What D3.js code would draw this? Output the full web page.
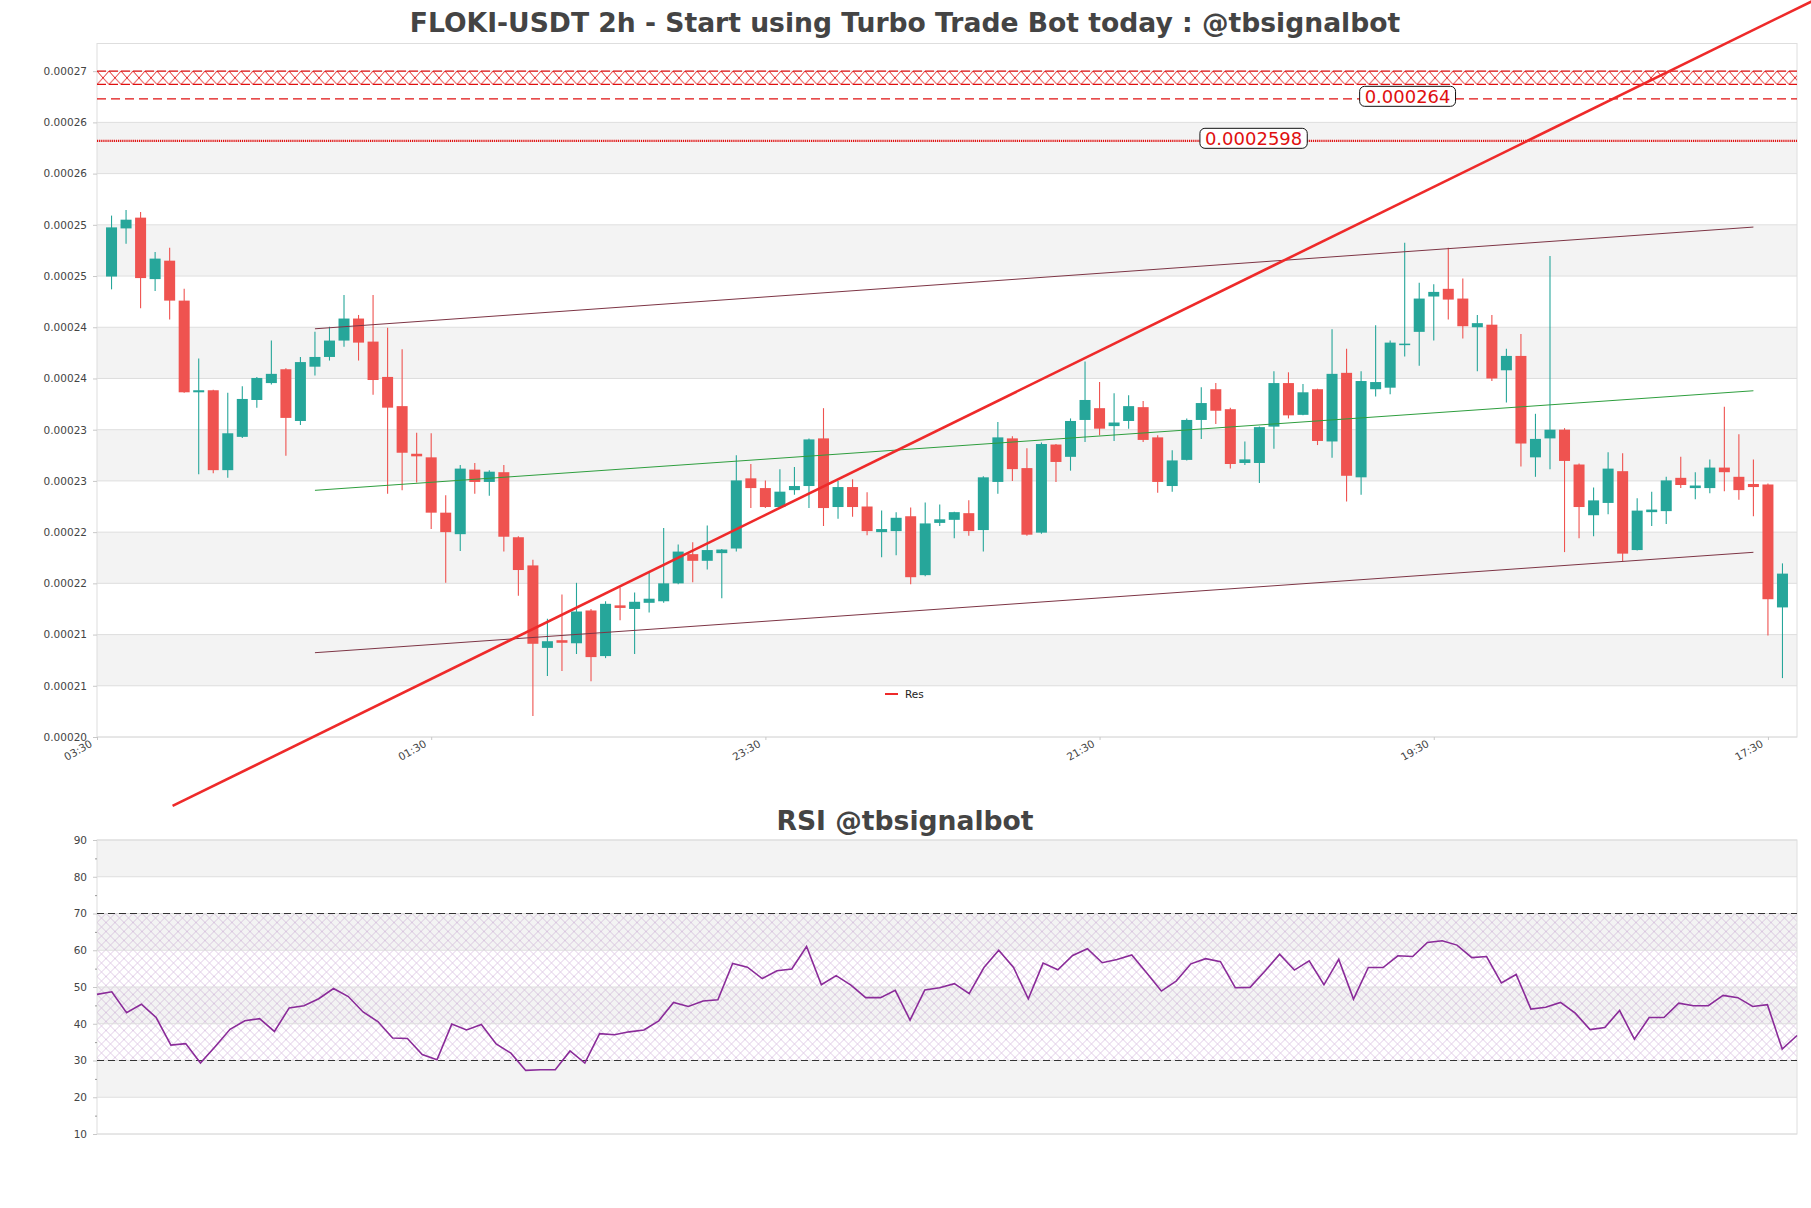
<!DOCTYPE html>
<html><head><meta charset="utf-8">
<script src="https://cdn.jsdelivr.net/npm/d3@7/dist/d3.min.js"></script>
<style>body{margin:0;background:#fff}svg{display:block;font-family:"DejaVu Sans",sans-serif}</style>
</head><body><svg id="c" width="1811" height="1208"></svg>
<script>
// ---------------- DATA ----------------
const openP = [0.00024655,0.00025125,0.0002523,0.0002463,0.0002481,0.0002442,0.00023525,0.00023545,0.00022765,0.0002309,
0.0002345,0.00023615,0.0002375,0.00023245,0.00023775,0.0002387,0.0002403,0.00024245,0.0002402,0.00023675,
0.0002339,0.00022925,0.0002289,0.0002235,0.0002214,0.0002277,0.0002265,0.00022745,0.0002211,0.00021835,
0.0002103,0.00021105,0.00021075,0.00021395,0.0002095,0.00021445,0.0002141,0.0002147,0.00021485,0.0002166,
0.00021945,0.0002188,0.00021955,0.00022,0.00022685,0.0002259,0.00022405,0.0002257,0.0002261,0.00023075,
0.00022405,0.000226,0.0002241,0.0002216,0.0002217,0.00022315,0.0002174,0.0002225,0.0002228,0.00022345,
0.0002218,0.0002265,0.00023075,0.00022785,0.00022155,0.00023015,0.00022895,0.00023255,0.0002337,0.00023195,
0.00023245,0.0002338,0.00023085,0.0002261,0.00022865,0.00023255,0.00023555,0.0002336,0.00022835,0.00022835,
0.0002319,0.00023615,0.00023305,0.00023555,0.00023045,0.00023715,0.00022695,0.00023555,0.0002357,0.0002399,
0.00024115,0.0002446,0.00024535,0.0002444,0.0002416,0.00024185,0.0002374,0.0002388,0.0002289,0.00023075,
0.0002316,0.0002282,0.00022325,0.00022445,0.00022755,0.00021985,0.00022355,0.00022365,0.0002269,0.0002259,
0.0002259,0.0002279,0.000227,0.0002263,0.00022625,0.00021425];
const highP = [0.0002525,0.00025305,0.00025285,0.00024895,0.00024935,0.00024535,0.00023855,0.0002355,0.0002352,0.00023585,
0.00023675,0.0002403,0.0002376,0.0002387,0.00024115,0.00024165,0.00024475,0.0002428,0.00024475,0.00024155,
0.00023945,0.0002313,0.00023125,0.0002252,0.00022815,0.00022835,0.00022765,0.00022815,0.0002212,0.0002189,
0.00021315,0.0002155,0.00021665,0.0002141,0.00021485,0.0002162,0.0002157,0.0002178,0.000222,0.0002204,
0.0002206,0.00022225,0.00021995,0.0002291,0.00022825,0.00022665,0.00022775,0.00022795,0.00023075,0.0002337,
0.0002266,0.00022675,0.0002255,0.0002237,0.00022355,0.000224,0.0002245,0.0002243,0.0002236,0.0002247,
0.00022705,0.00023235,0.00023095,0.0002298,0.00023035,0.0002302,0.0002327,0.00023825,0.00023625,0.00023515,
0.00023495,0.0002344,0.00023105,0.0002296,0.0002327,0.00023575,0.00023615,0.00023375,0.00023045,0.0002319,
0.0002373,0.0002372,0.00023605,0.0002356,0.0002414,0.0002395,0.0002373,0.0002418,0.0002403,0.00024985,
0.00024595,0.0002458,0.00024935,0.00024635,0.0002428,0.0002428,0.0002395,0.00024095,0.00023315,0.00024855,
0.00023175,0.0002283,0.00022595,0.0002294,0.0002293,0.0002249,0.00022555,0.000227,0.00022895,0.00022745,
0.0002287,0.00023385,0.00023115,0.0002287,0.00022635,0.00021855];
const lowP = [0.0002453,0.00024975,0.00024345,0.00024515,0.00024235,0.0002352,0.00022725,0.00022735,0.0002269,0.0002308,
0.00023375,0.000236,0.00022905,0.00023205,0.0002369,0.00023835,0.0002397,0.00023835,0.000235,0.00022535,
0.0002257,0.00022645,0.0002219,0.00021665,0.00021975,0.00022535,0.00022515,0.0002197,0.0002154,0.00020365,
0.00020755,0.00020805,0.0002097,0.00020705,0.0002093,0.000213,0.0002097,0.00021375,0.0002147,0.0002165,
0.0002167,0.00021795,0.00021515,0.0002197,0.00022395,0.00022395,0.00022395,0.00022525,0.00022395,0.0002222,
0.0002229,0.0002231,0.0002213,0.00021915,0.00021935,0.0002165,0.0002173,0.0002222,0.000221,0.00022125,
0.0002197,0.00022535,0.0002266,0.00022125,0.00022145,0.0002265,0.0002276,0.0002304,0.00023105,0.0002305,
0.0002317,0.0002304,0.00022545,0.00022555,0.0002286,0.0002307,0.00023215,0.0002278,0.00022815,0.0002264,
0.00022975,0.0002327,0.000233,0.0002301,0.00022885,0.0002246,0.00022525,0.00023485,0.00023505,0.00023875,
0.00023785,0.0002403,0.00024235,0.0002405,0.0002373,0.00023635,0.00023425,0.000228,0.000227,0.00022775,
0.00021965,0.000221,0.0002212,0.00022335,0.00021875,0.0002198,0.0002222,0.0002224,0.0002259,0.0002248,
0.0002254,0.0002256,0.00022475,0.00022315,0.0002115,0.00020735];
const closeP = [0.00025135,0.0002521,0.0002464,0.0002483,0.0002442,0.00023525,0.00023545,0.00022765,0.00023125,0.0002346,
0.00023665,0.00023705,0.00023275,0.0002382,0.0002387,0.0002403,0.00024245,0.0002401,0.00023645,0.00023375,
0.00022935,0.000229,0.0002235,0.0002216,0.0002278,0.0002265,0.0002275,0.00022115,0.0002179,0.0002107,
0.00021095,0.0002108,0.00021385,0.0002094,0.0002146,0.0002142,0.0002148,0.0002151,0.0002166,0.0002197,
0.0002188,0.00021985,0.0002199,0.00022665,0.0002259,0.00022405,0.00022555,0.0002261,0.00023065,0.00022395,
0.000226,0.00022405,0.0002217,0.0002219,0.000223,0.0002172,0.00022245,0.00022285,0.00022355,0.0002217,
0.00022695,0.00023085,0.00022775,0.00022135,0.0002302,0.00022845,0.00023245,0.0002345,0.0002317,0.0002323,
0.0002339,0.0002306,0.0002265,0.0002286,0.00023255,0.0002342,0.00023345,0.00022825,0.0002287,0.00023185,
0.00023615,0.000233,0.00023525,0.0002305,0.00023705,0.0002271,0.00023635,0.00023625,0.0002401,0.00024,
0.0002444,0.00024505,0.0002443,0.0002417,0.000242,0.0002366,0.0002388,0.00023025,0.0002307,0.0002316,
0.00022855,0.00022405,0.0002247,0.0002278,0.0002195,0.0002237,0.0002238,0.00022665,0.0002262,0.00022615,
0.0002279,0.00022745,0.0002257,0.000226,0.00021505,0.00021755];

const xTickIdx = [-1, 22, 45, 68, 91, 114];
const xTickLabels = ["03:30", "01:30", "23:30", "21:30", "19:30", "17:30"];
const yTickValues = [0.0002016,0.0002066,0.0002116,0.0002166,0.0002216,0.0002266,0.0002316,0.0002366,0.0002416,0.0002466,0.0002516,0.0002566,0.0002616,0.0002666];
const yTickLabels = ["0.00020","0.00021","0.00021","0.00022","0.00022","0.00023","0.00023","0.00024","0.00024","0.00025","0.00025","0.00026","0.00026","0.00027"];

const channelUpper = [[14, 0.00024145], [113, 0.00025138]];
const channelMid   = [[14, 0.00022568], [113, 0.0002354]];
const channelLower = [[14, 0.00020983], [113, 0.00021963]];
const resLine      = [[4.2, 0.00019487], [119, 0.0002748]];
const resLegend = "Res";
const zoneRange = [0.0002653, 0.0002666];
const levelDashed = 0.0002639, levelDashedLabel = "0.000264";
const levelDotted = 0.0002598, levelDottedLabel = "0.0002598";

const rsiValues = [48.0,48.7,43.0,45.3,41.7,34.2,34.6,29.3,33.8,38.5,
40.8,41.4,37.9,44.3,44.9,46.8,49.6,47.4,43.2,40.6,
36.1,36.0,31.6,30.2,39.9,38.3,39.8,34.5,32.0,27.3,
27.5,27.5,32.6,29.3,37.3,37.0,37.8,38.3,40.8,45.8,
44.7,46.2,46.5,56.4,55.4,52.3,54.4,54.9,61.0,50.6,
53.1,50.5,47.1,47.1,49.1,41.0,49.2,49.8,50.9,48.2,
55.3,60.0,55.3,46.8,56.5,54.7,58.6,60.4,56.6,57.5,
58.7,53.9,48.9,51.6,56.3,57.7,56.9,49.8,49.9,54.3,
58.9,54.6,57.1,50.6,57.5,46.7,55.3,55.3,58.5,58.3,
62.1,62.6,61.4,58.0,58.3,51.1,53.4,44.0,44.5,45.8,
42.9,38.4,39.0,43.6,35.8,41.7,41.7,45.6,44.9,44.9,
47.7,47.1,44.7,45.2,33.1,36.8];
const rsiTicks = [10,20,30,40,50,60,70,80,90];
const rsiMinor = [15,25,35,45,55,65,75,85];
const rsiLevels = [30, 70];

const mainTitle = "FLOKI-USDT 2h - Start using Turbo Trade Bot today : @tbsignalbot";
const rsiTitle = "RSI @tbsignalbot";

// ---------------- DRAW ----------------
const svg = d3.select("#c");
const defs = svg.append("defs");
const UP = "#26a69a", DOWN = "#ef5350", BAND = "#f3f3f3", GRID = "#dedede", TXT = "#444";

const M = {l: 97, r: 1797, t: 43.5, b: 737};
const x = d3.scaleLinear().domain([-1, 116]).range([M.l, M.r]);
const y = d3.scaleLinear().domain([0.0002016, 0.0002693]).range([M.b, M.t]);

// title
svg.append("text").attr("x", 905).attr("y", 32).attr("text-anchor", "middle")
  .attr("font-size", 26.6).attr("font-weight", "bold").attr("fill", TXT).text(mainTitle);

const g = svg.append("g");
// bands
for (let k = 1; k < yTickValues.length - 1; k += 2) {
  g.append("rect").attr("x", M.l).attr("width", M.r - M.l)
    .attr("y", y(yTickValues[k + 1])).attr("height", y(yTickValues[k]) - y(yTickValues[k + 1]))
    .attr("fill", BAND);
}
g.selectAll("line.grid").data(yTickValues).join("line").attr("class", "grid")
  .attr("x1", M.l).attr("x2", M.r).attr("y1", d => y(d)).attr("y2", d => y(d))
  .attr("stroke", GRID).attr("stroke-width", 1);
g.append("rect").attr("x", M.l).attr("y", M.t).attr("width", M.r - M.l).attr("height", M.b - M.t)
  .attr("fill", "none").attr("stroke", GRID);

// y axis
const ya = g.append("g").attr("transform", `translate(${M.l},0)`)
  .call(d3.axisLeft(y).tickValues(yTickValues).tickFormat((d, i) => yTickLabels[i]).tickSize(4).tickPadding(6));
ya.select(".domain").remove();
ya.selectAll("line").attr("stroke", "#c8c8c8");
ya.selectAll("text").attr("font-size", 10.5).attr("fill", TXT).attr("font-family", "DejaVu Sans");

// x axis
const xa = g.append("g").attr("transform", `translate(0,${M.b})`)
  .call(d3.axisBottom(x).tickValues(xTickIdx).tickFormat((d, i) => xTickLabels[i]).tickSize(3));
xa.select(".domain").remove();
xa.selectAll("line").attr("stroke", "#c8c8c8");
xa.selectAll("text").attr("font-size", 10.5).attr("fill", TXT).attr("font-family", "DejaVu Sans")
  .attr("text-anchor", "end").attr("x", -1).attr("y", 3).attr("dy", "0.75em")
  .attr("transform", "translate(-9,-1) rotate(-30)");

// hatched zone
const zTop = y(zoneRange[1]), zBot = y(zoneRange[0]), zH = zBot - zTop;
const zp = defs.append("pattern").attr("id", "zoneHatch").attr("patternUnits", "userSpaceOnUse")
  .attr("x", M.l).attr("y", zTop).attr("width", 12).attr("height", zH);
zp.append("path").attr("d", `M0,0L12,${zH}M12,0L0,${zH}`).attr("stroke", "#e01010").attr("stroke-width", 0.9).attr("fill", "none");
g.append("rect").attr("x", M.l).attr("width", M.r - M.l).attr("y", zTop).attr("height", zH).attr("fill", "url(#zoneHatch)");
[zTop, zBot].forEach(yy => g.append("line").attr("x1", M.l).attr("x2", M.r).attr("y1", yy).attr("y2", yy)
  .attr("stroke", "#e01010").attr("stroke-width", 1.2).attr("stroke-dasharray", "9,3"));

// levels
g.append("line").attr("x1", M.l).attr("x2", M.r).attr("y1", y(levelDashed)).attr("y2", y(levelDashed))
  .attr("stroke", "#e01010").attr("stroke-width", 1.2).attr("stroke-dasharray", "9,5");
g.append("line").attr("x1", M.l).attr("x2", M.r).attr("y1", y(levelDotted)).attr("y2", y(levelDotted))
  .attr("stroke", "#e01010").attr("stroke-width", 2.2).attr("stroke-dasharray", "1.2,0.9");

// candles
const cw = 11;
const cg = g.append("g");
openP.forEach((o, i) => {
  const c = closeP[i], col = c >= o ? UP : DOWN;
  cg.append("line").attr("x1", x(i)).attr("x2", x(i)).attr("y1", y(highP[i])).attr("y2", y(lowP[i]))
    .attr("stroke", col).attr("stroke-width", 1.1);
  const t = y(Math.max(o, c)), b = y(Math.min(o, c));
  cg.append("rect").attr("x", x(i) - cw / 2).attr("width", cw).attr("y", t).attr("height", Math.max(b - t, 1.5)).attr("fill", col);
});

// channel lines
const line = d3.line().x(d => x(d[0])).y(d => y(d[1]));
g.append("path").attr("d", line(channelUpper)).attr("stroke", "#7d3545").attr("stroke-width", 1).attr("fill", "none");
g.append("path").attr("d", line(channelMid)).attr("stroke", "#2e9e3e").attr("stroke-width", 1).attr("fill", "none");
g.append("path").attr("d", line(channelLower)).attr("stroke", "#7d3545").attr("stroke-width", 1).attr("fill", "none");

// Res line (not clipped)
svg.append("path").attr("d", line(resLine)).attr("stroke", "#ee2a2a").attr("stroke-width", 2.6).attr("fill", "none");

// label boxes
function labelBox(val, txt, idx) {
  const gg = svg.append("g");
  const cy = y(val) - 2.5;
  const t = gg.append("text").attr("x", x(idx)).attr("y", cy).attr("text-anchor", "middle")
    .attr("dominant-baseline", "central").attr("font-size", 18).attr("fill", "#e01010").text(txt);
  const w = t.node().getComputedTextLength();
  gg.insert("rect", "text").attr("x", x(idx) - w / 2 - 5).attr("y", cy - 10).attr("width", w + 10).attr("height", 20)
    .attr("rx", 5).attr("fill", "#fff").attr("stroke", "#111").attr("stroke-width", 1);
}
labelBox(levelDashed, levelDashedLabel, 89.2);
labelBox(levelDotted, levelDottedLabel, 78.6);

// legend
svg.append("line").attr("x1", 885).attr("x2", 898).attr("y1", 694).attr("y2", 694).attr("stroke", "#ee2a2a").attr("stroke-width", 2);
svg.append("text").attr("x", 905).attr("y", 694).attr("dominant-baseline", "central").attr("font-size", 10.5).attr("fill", "#222").text(resLegend);

// ---------------- RSI ----------------
const R = {l: 97, r: 1797, t: 840, b: 1134};
const xr = d3.scaleLinear().domain([0, rsiValues.length - 1]).range([R.l, R.r]);
const yr = d3.scaleLinear().domain([10, 90]).range([R.b, R.t]);
svg.append("text").attr("x", 905).attr("y", 830).attr("text-anchor", "middle")
  .attr("font-size", 26.6).attr("font-weight", "bold").attr("fill", TXT).text(rsiTitle);
const rg = svg.append("g");
for (let k = 1; k < rsiTicks.length - 1; k += 2) {
  rg.append("rect").attr("x", R.l).attr("width", R.r - R.l)
    .attr("y", yr(rsiTicks[k + 1])).attr("height", yr(rsiTicks[k]) - yr(rsiTicks[k + 1])).attr("fill", BAND);
}
const hp = defs.append("pattern").attr("id", "rsiHatch").attr("patternUnits", "userSpaceOnUse")
  .attr("x", R.l).attr("y", yr(70)).attr("width", 9).attr("height", 9);
hp.append("path").attr("d", "M0,0L9,9M9,0L0,9").attr("stroke", "#bf9ccc").attr("stroke-width", 0.7).attr("fill", "none").attr("opacity", 0.7);
rg.append("rect").attr("x", R.l).attr("width", R.r - R.l).attr("y", yr(70)).attr("height", yr(30) - yr(70))
  .attr("fill", "url(#rsiHatch)");
rg.selectAll("line.grid").data(rsiTicks).join("line").attr("class", "grid")
  .attr("x1", R.l).attr("x2", R.r).attr("y1", d => yr(d)).attr("y2", d => yr(d)).attr("stroke", GRID);
rg.append("rect").attr("x", R.l).attr("y", R.t).attr("width", R.r - R.l).attr("height", R.b - R.t)
  .attr("fill", "none").attr("stroke", GRID);
rsiLevels.forEach(v => rg.append("line").attr("x1", R.l).attr("x2", R.r).attr("y1", yr(v)).attr("y2", yr(v))
  .attr("stroke", "#333").attr("stroke-width", 1.2).attr("stroke-dasharray", "7,4"));
const ra = rg.append("g").attr("transform", `translate(${R.l},0)`)
  .call(d3.axisLeft(yr).tickValues(rsiTicks).tickFormat(d3.format("d")).tickSize(4).tickPadding(6));
ra.select(".domain").remove();
ra.selectAll("line").attr("stroke", "#c8c8c8");
ra.selectAll("text").attr("font-size", 10.5).attr("fill", TXT).attr("font-family", "DejaVu Sans");
const rm = rg.append("g").attr("transform", `translate(${R.l},0)`)
  .call(d3.axisLeft(yr).tickValues(rsiMinor).tickFormat("").tickSize(2));
rm.select(".domain").remove();
rm.selectAll("line").attr("stroke", "#999");
rg.append("path").datum(rsiValues)
  .attr("d", d3.line().x((d, i) => xr(i)).y(d => yr(d)))
  .attr("fill", "none").attr("stroke", "#8a2b99").attr("stroke-width", 1.6);
</script></body></html>
